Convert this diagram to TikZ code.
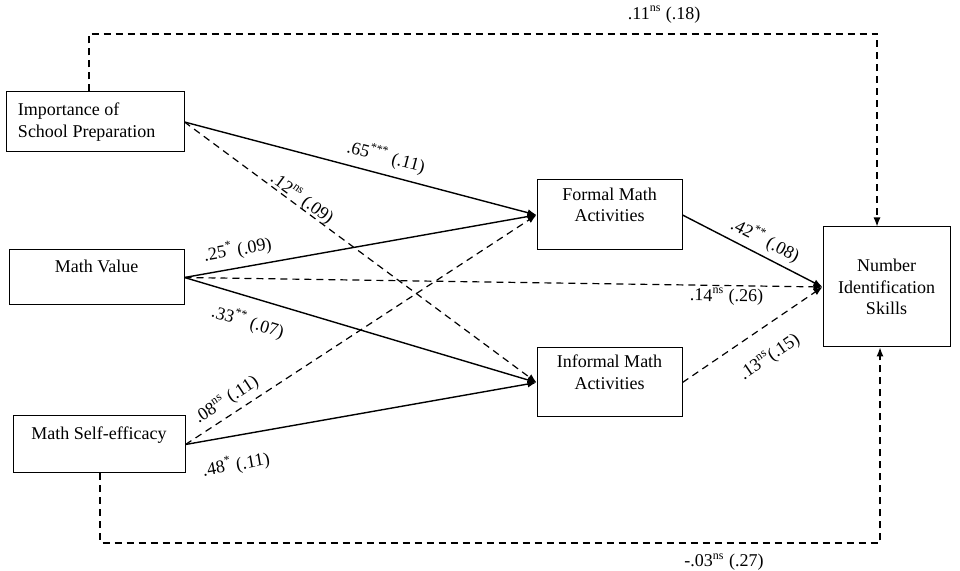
\documentclass[tikz,border=0pt]{standalone}
\usepackage{fontspec}
\setmainfont{Liberation Serif}
\usetikzlibrary{arrows.meta}
\newcommand{\supx}[1]{\textsuperscript{#1}}
\tikzset{
	box/.style={draw,line width=0.5pt,inner sep=3pt,font=\fontsize{9}{10.8}\selectfont},
	pth/.style={line width=0.7pt,-{Latex[length=4.5pt,width=3.5pt]}},
	dsh/.style={pth,line width=0.6pt,dash pattern=on 3.5pt off 2.5pt},
	lbl/.style={font=\fontsize{9}{10.8}\selectfont,inner sep=1pt,sloped}
}
\begin{document}
\begin{tikzpicture}[x=0.5pt,y=-0.5pt]
	\useasboundingbox (0,0) rectangle (960,571);
	% predictors
	\node[box,minimum width=89pt,minimum height=30pt,text width=77pt,align=flush left] (imp) at (95,122) {Importance of\\School Preparation};
	\node[box,minimum width=87.5pt,minimum height=27.5pt,text height=6.5pt,text depth=11.5pt] (mv) at (96.5,277.5) {Math Value};
	\node[box,minimum width=86pt,minimum height=28.5pt,text height=6.5pt,text depth=11.5pt] (mse) at (99,444.5) {Math Self-efficacy};
	% mediators
	\node[box,minimum width=72.5pt,minimum height=35pt,align=center,text height=17pt,text depth=10pt] (formal) at (609.5,215) {Formal Math\\Activities};
	\node[box,minimum width=72.5pt,minimum height=34.5pt,align=center,text height=17pt,text depth=10pt] (informal) at (609.5,382.5) {Informal Math\\Activities};
	% outcome
	\node[box,minimum width=63.5pt,minimum height=60pt,align=center] (num) at (886.5,287) {Number\\Identification\\Skills};
	% paths
	\draw[pth] (imp.east) -- node[lbl,above=2.7pt,pos=0.56]{.65\supx{***} (.11)} (formal.west);
	\draw[dsh] (imp.east) -- node[lbl,above=-1.6pt,pos=0.32]{.12\supx{ns} (.09)} (informal.west);
	\draw[pth] (mv.east) -- node[lbl,above=3pt,pos=0.16]{.25\supx{*} (.09)} (formal.west);
	\draw[dsh] (mv.east) -- node[lbl,below=0pt,pos=0.85]{.14\supx{ns} (.26)} (num.west);
	\draw[pth] (mv.east) -- node[lbl,below=6pt,pos=0.2]{.33\supx{**} (.07)} (informal.west);
	\draw[dsh] (mse.east) -- node[lbl,above=1.7pt,pos=0.14]{.08\supx{ns} (.11)} (formal.west);
	\draw[pth] (mse.east) -- node[lbl,below=8pt,pos=0.13]{.48\supx{*} (.11)} (informal.west);
	\draw[pth] (formal.east) -- node[lbl,above=1.7pt,pos=0.54]{.42\supx{**} (.08)} (num.west);
	\draw[dsh] (informal.east) -- node[lbl,below=8.5pt,pos=0.51]{.13\supx{ns}(.15)} (num.west);
	% direct effects round the outside
	\coordinate (topL) at (89,34);
	\coordinate (topR) at (877,34);
	\coordinate (botL) at (100,543);
	\coordinate (botR) at (880,543);
	\draw[dsh] (imp.north -| topL) -- (topL) -- node[lbl,above=4pt,pos=0.73]{.11\supx{ns} (.18)} (topR) -- (topR |- num.north);
	\draw[dsh] (mse.south -| botL) -- (botL) -- node[lbl,below=4pt,pos=0.8]{-.03\supx{ns} (.27)} (botR) -- (botR |- num.south);
\end{tikzpicture}
\end{document}
